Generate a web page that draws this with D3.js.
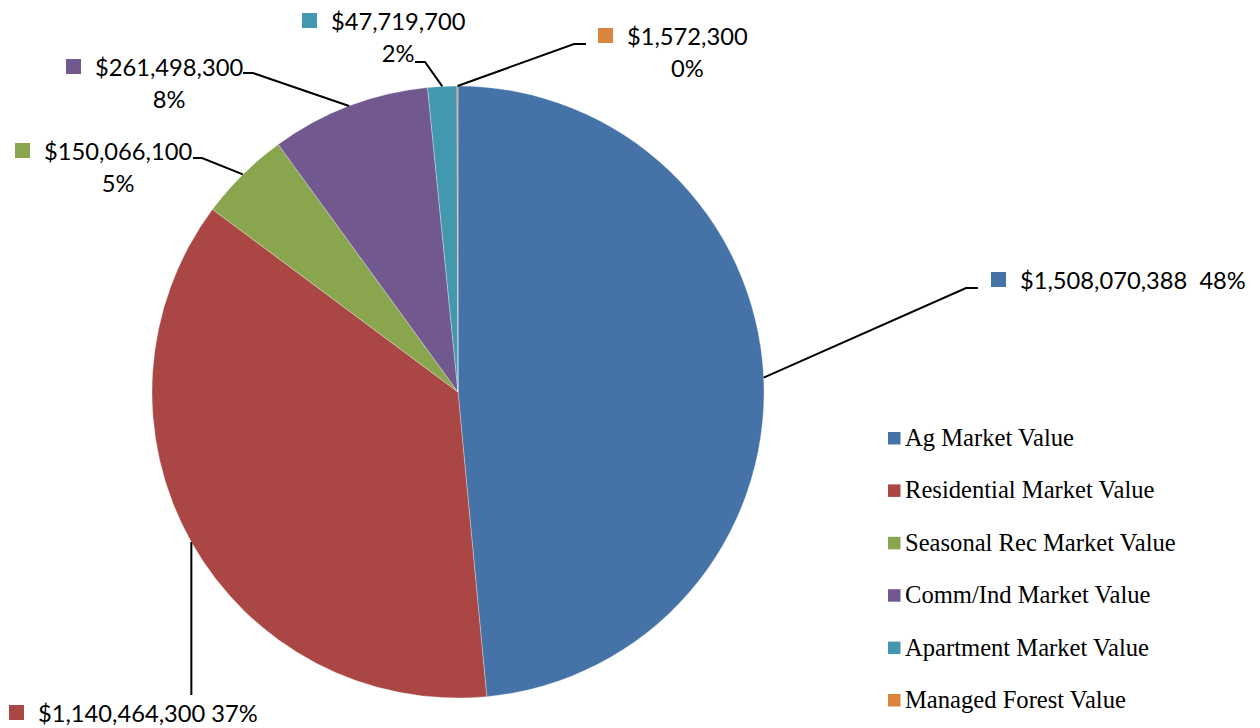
<!DOCTYPE html>
<html>
<head>
<meta charset="utf-8">
<script src="https://cdn.jsdelivr.net/npm/d3@7"></script>
<style>
  body { margin: 0; background: #fff; }
  .lbl { font-family: Lato, "Open Sans", sans-serif; font-size: 23.7px; fill: #000; white-space: pre; }
  .leg { font-family: "Liberation Serif", "Times New Roman", serif; font-size: 24.6px; fill: #000; }
</style>
</head>
<body>
<svg id="chart" width="1260" height="728"></svg>
<script>
(function () {

  'use strict';

  var categories = ['Ag Market Value', 'Residential Market Value', 'Seasonal Rec Market Value',
    'Comm/Ind Market Value', 'Apartment Market Value', 'Managed Forest Value'];
  var values = [1508070388, 1140464300, 150066100, 261498300, 47719700, 1572300];
  var shares = ['48%', '37%', '5%', '8%', '2%', '0%']; // as printed on the chart
  var colors = ['#4572A7', '#AA4643', '#89A54E', '#71588F', '#4198AF', '#DB843D'];

  // where each data label sits: text start, first baseline, leader elbow + end
  var labelPos = [
    { x: 1020, y: 289, elbow: [966, 288], end: [978, 288], twoLines: false, gap: '\u00a0\u00a0' },
    { x: 38, y: 722, elbow: null, end: [null, 695], twoLines: false, gap: ' ' },
    { x: 44, y: 160, elbow: [202, 158], end: [193, 158], twoLines: true },
    { x: 95, y: 76, elbow: [253, 73], end: [243, 73], twoLines: true },
    { x: 331, y: 30, elbow: [425, 62], end: [415, 62], twoLines: true },
    { x: 627, y: 45, elbow: [574, 44], end: [586, 44], twoLines: true }
  ];

  var cx = 458, cy = 392, radius = 306;
  var svg = d3.select('#chart');
  var money = function (v) { return '$' + d3.format(',')(v); };

  var pie = d3.pie().sort(null).value(function (d) { return d; });
  var arc = d3.arc().innerRadius(0).outerRadius(radius);
  var arcs = pie(values);

  var g = svg.append('g').attr('transform', 'translate(' + cx + ',' + cy + ')');

  g.selectAll('path.slice')
    .data(arcs)
    .enter()
    .append('path')
    .attr('class', 'slice')
    .attr('d', arc)
    .attr('fill', function (d, i) { return colors[i]; })
    .attr('stroke', 'rgba(255,255,255,0.5)')
    .attr('stroke-width', 0.6);

  // ----------- DATA LABELS --------------
  arcs.forEach(function (a, i) {
    var p = labelPos[i];
    var mid = (a.startAngle + a.endAngle) / 2;
    var start = [cx + radius * Math.sin(mid), cy - radius * Math.cos(mid)];
    var pts = [start];
    if (p.elbow) { pts.push(p.elbow); }
    pts.push([p.end[0] === null ? start[0] : p.end[0], p.end[1]]);

    svg.append('path')
      .attr('d', d3.line()(pts))
      .attr('fill', 'none')
      .attr('stroke', '#000')
      .attr('stroke-width', 2);

    svg.append('rect')
      .attr('x', p.x - 29)
      .attr('y', p.y - 17)
      .attr('width', 15)
      .attr('height', 15)
      .attr('fill', colors[i]);

    if (!p.twoLines) {
      svg.append('text').attr('class', 'lbl')
        .attr('x', p.x).attr('y', p.y)
        .text(money(values[i]) + p.gap + shares[i]);
    } else {
      var t1 = svg.append('text').attr('class', 'lbl')
        .attr('x', p.x).attr('y', p.y)
        .text(money(values[i]));
      var w = t1.node().getComputedTextLength();
      svg.append('text').attr('class', 'lbl')
        .attr('x', p.x + w / 2).attr('y', p.y + 32)
        .attr('text-anchor', 'middle')
        .text(shares[i]);
    }
  });

  // ----------- LEGEND --------------
  var legend = svg.append('g').attr('transform', 'translate(888,446)');
  var item = legend.selectAll('g')
    .data(categories)
    .enter()
    .append('g')
    .attr('transform', function (d, i) { return 'translate(0,' + (i * 52.4) + ')'; });

  item.append('rect')
    .attr('x', 0).attr('y', -14)
    .attr('width', 12.5).attr('height', 12.5)
    .attr('fill', function (d, i) { return colors[i]; });

  item.append('text')
    .attr('class', 'leg')
    .attr('x', 17).attr('y', 0)
    .text(function (d) { return d; });

})();
</script>
</body>
</html>
